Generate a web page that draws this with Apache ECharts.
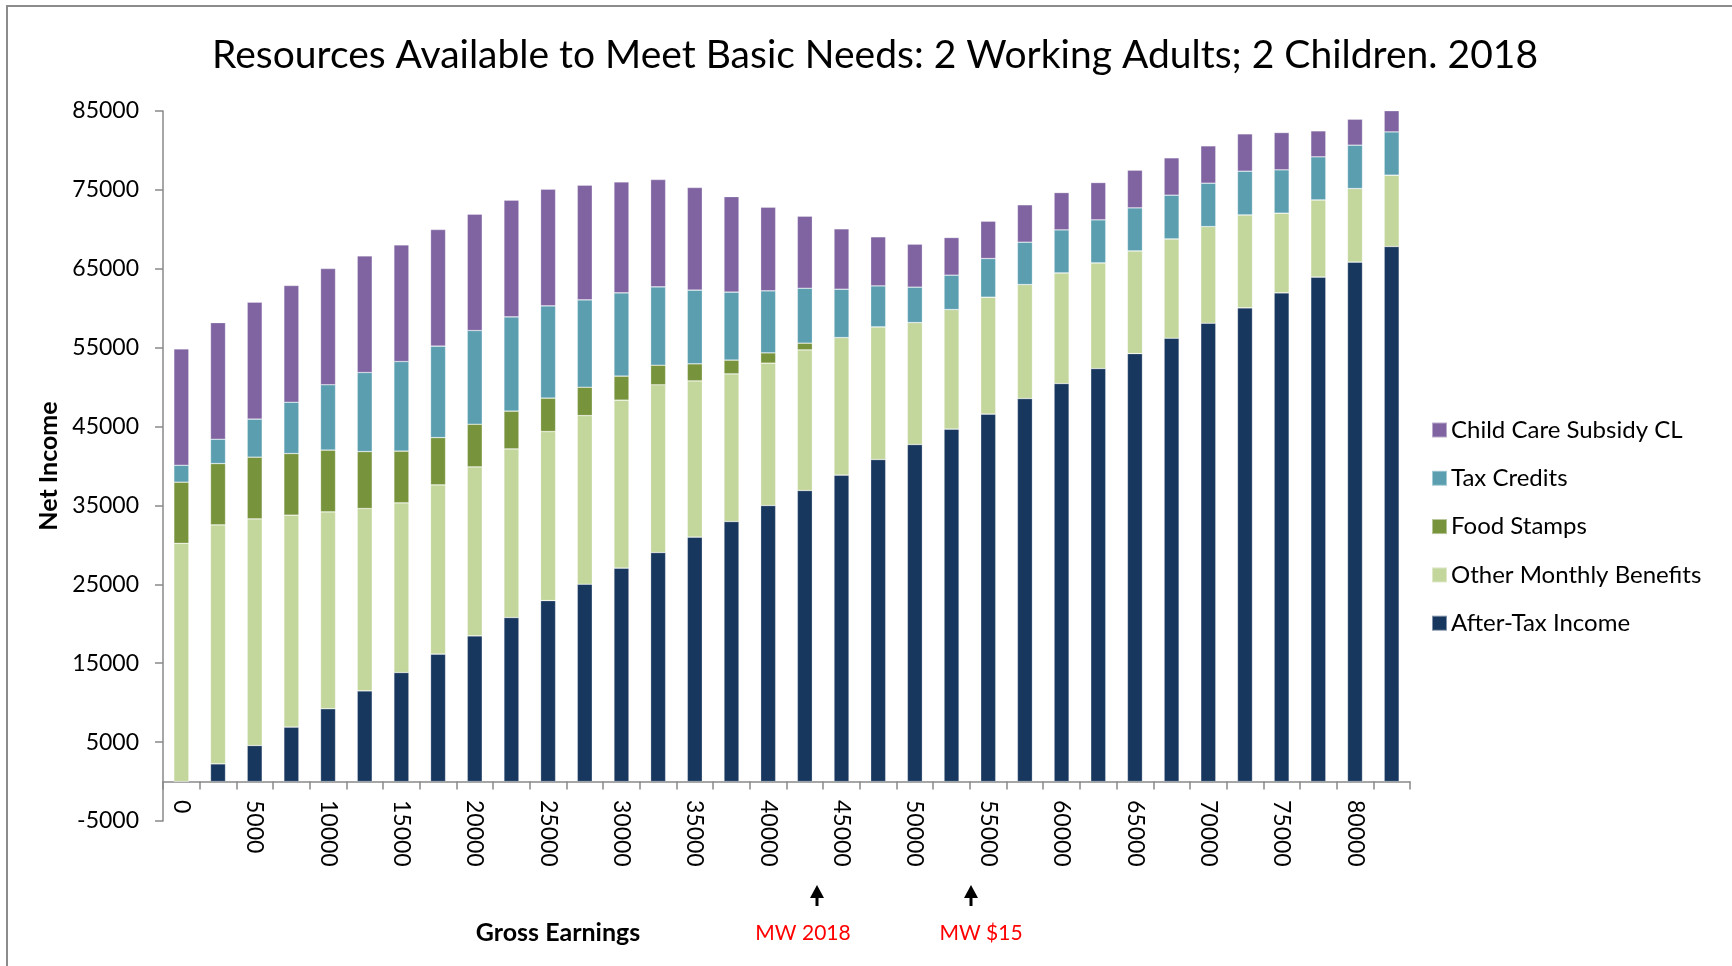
<!DOCTYPE html>
<html>
<head>
<meta charset="utf-8">
<style>
  html, body { margin: 0; padding: 0; background: #fff; }
  #chart { width: 1732px; height: 966px; }
</style>
<script src="https://cdn.jsdelivr.net/npm/echarts@6/dist/echarts.min.js"></script>
</head>
<body>
<div id="chart"></div>
<script>
// gross earnings categories
const categories = [
  "0", "2500", "5000", "7500", "10000", "12500", "15000", "17500", "20000", "22500",
  "25000", "27500", "30000", "32500", "35000", "37500", "40000", "42500", "45000", "47500",
  "50000", "52500", "55000", "57500", "60000", "62500", "65000", "67500", "70000", "72500",
  "75000", "77500", "80000", "82500"
];

const afterTax = [
  0, 2240, 4570, 6900, 9220, 11500, 13820, 16150, 18470, 20790,
  22940, 25020, 27050, 29030, 30980, 32960, 34990, 36890, 38840, 40820,
  42720, 44670, 46570, 48550, 50450, 52350, 54250, 56200, 58100, 60050,
  61950, 63940, 65840, 67820
];
const otherBenefits = [
  30200, 30300, 28730, 26870, 24970, 23110, 21510, 21460, 21420, 21380,
  21430, 21370, 21300, 21260, 19810, 18720, 18050, 17830, 17440, 16820,
  15460, 15160, 14830, 14450, 14030, 13400, 13020, 12590, 12250, 11780,
  10100, 9790, 9330, 9050
];
const foodStamps = [
  7750, 7770, 7820, 7810, 7820, 7220, 6550, 5990, 5410, 4780,
  4230, 3600, 3040, 2490, 2160, 1740, 1300, 850, 0, 0,
  0, 0, 0, 0, 0, 0, 0, 0, 0, 0,
  0, 0, 0, 0
];
const taxCredits = [
  2150, 3090, 4820, 6510, 8280, 10020, 11360, 11590, 11870, 11950,
  11700, 11070, 10560, 9930, 9340, 8620, 7860, 6970, 6130, 5190,
  4490, 4360, 4900, 5370, 5450, 5450, 5450, 5540, 5500, 5540,
  5490, 5460, 5500, 5480
];
const childCare = [
  14750, 14780, 14830, 14790, 14740, 14790, 14790, 14780, 14750, 14800,
  14790, 14540, 14070, 13600, 13010, 12110, 10610, 9130, 7650, 6220,
  5450, 4770, 4730, 4740, 4730, 4730, 4780, 4730, 4730, 4730,
  4730, 3290, 3290, 2790
];

const seriesNames = ["After-Tax Income", "Other Monthly Benefits", "Food Stamps", "Tax Credits", "Child Care Subsidy CL"];
const seriesColors = ["#17375E", "#C3D69B", "#77933C", "#5A9EB0", "#8064A2"];
const seriesData = [afterTax, otherBenefits, foodStamps, taxCredits, childCare];

const FONT = "Lato";
const chart = echarts.init(document.getElementById("chart"));

// 箭头标注（最低工资位置）
const arrow = (cx) => [
  {
    type: "polygon",
    shape: { points: [[cx, 885], [cx - 7, 898], [cx + 7, 898]] },
    style: { fill: "#000" },
  },
  {
    type: "rect",
    shape: { x: cx - 1.5, y: 896, width: 3, height: 10 },
    style: { fill: "#000" },
  },
];

const options = {
  animation: false,
  backgroundColor: "#fff",
  title: {
    text: "Resources Available to Meet Basic Needs: 2 Working Adults; 2 Children. 2018",
    left: 870,
    top: 31,
    textAlign: "center",
    textStyle: { fontFamily: FONT, fontSize: 39, fontWeight: "normal", color: "#000" },
  },
  legend: {
    orient: "vertical",
    left: 1426,
    top: 413,
    itemWidth: 15,
    itemHeight: 15,
    itemGap: 24.3,
    icon: "rect",
    data: seriesNames.slice().reverse(),
    textStyle: { fontFamily: FONT, fontSize: 24, lineHeight: 22, color: "#000", padding: [0, 0, 0, -1] },
  },
  grid: { left: 163, right: 322, top: 111, bottom: 145, containLabel: false },
  xAxis: {
    type: "category",
    data: categories,
    axisLine: { onZero: true, lineStyle: { color: "#898989", width: 1.5 } },
    axisTick: { show: true, interval: 0, length: 8, lineStyle: { color: "#898989", width: 1.5 } },
    axisLabel: {
      interval: 1,
      rotate: -90,
      margin: -21,
      fontFamily: FONT,
      fontSize: 23,
      color: "#000",
    },
  },
  yAxis: {
    type: "value",
    min: -5000,
    max: 85000,
    interval: 10000,
    name: "Net Income",
    nameLocation: "middle",
    nameGap: 102,
    nameRotate: 90,
    nameTextStyle: { fontFamily: FONT, fontSize: 25, fontWeight: "bold", color: "#000" },
    splitLine: { show: false },
    axisLine: { show: true, lineStyle: { color: "#898989", width: 1.5 } },
    axisTick: { show: true, length: 8, lineStyle: { color: "#898989", width: 1.5 } },
    axisLabel: { margin: 24, fontFamily: FONT, fontSize: 23, color: "#000", formatter: (v) => String(v) },
  },
  series: seriesNames.map((name, i) => ({
    name: name,
    type: "bar",
    stack: "total",
    barWidth: 15,
    itemStyle: { color: seriesColors[i], borderColor: "rgba(255,255,255,0.45)", borderWidth: 0.6 },
    data: seriesData[i],
  })),
  graphic: [
    {
      type: "rect",
      shape: { x: 7, y: 6, width: 1800, height: 1000 },
      style: { fill: "none", stroke: "#8c8c8c", lineWidth: 2 },
      silent: true,
    },
    {
      type: "text",
      x: 558,
      y: 933,
      style: { text: "Gross Earnings", font: "bold 25px " + FONT, fill: "#000", textAlign: "center", textVerticalAlign: "middle" },
    },
    {
      type: "text",
      x: 803,
      y: 933,
      style: { text: "MW 2018", font: "21px " + FONT, fill: "#FF0000", textAlign: "center", textVerticalAlign: "middle" },
    },
    {
      type: "text",
      x: 981,
      y: 933,
      style: { text: "MW $15", font: "21px " + FONT, fill: "#FF0000", textAlign: "center", textVerticalAlign: "middle" },
    },
    ...arrow(817),
    ...arrow(971),
  ],
};

chart.setOption(options);
</script>
</body>
</html>
